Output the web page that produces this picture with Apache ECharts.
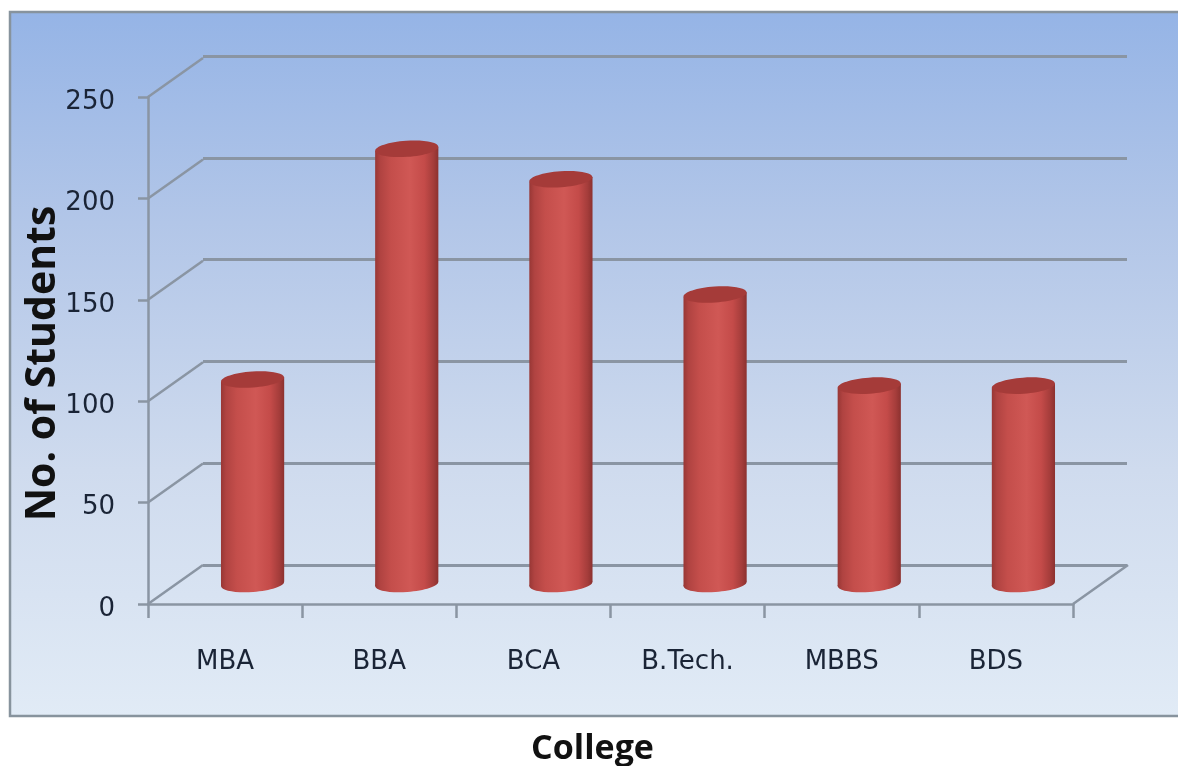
<!DOCTYPE html>
<html><head><meta charset="utf-8">
<style>html,body{margin:0;padding:0;background:#fff}#c{width:1178px;height:766px}</style>
<script src="https://cdn.jsdelivr.net/npm/echarts@6/dist/echarts.min.js"></script>
</head><body><div id="c"></div>
<script>
var categories = ['MBA','BBA','BCA','B.Tech.','MBBS','BDS'];
var students = [101,215,200,143,98,98];
var yTicks = [0,50,100,150,200,250];
var yTitle = 'No. of Students';
var xTitle = 'College';

var DEPTH_X = 55, DEPTH_Y = -39;
var GRID_COLOR = '#8a95a3', TEXT = '#1a2436';
var bodyFill = {type:'linear',x:0,y:0,x2:1,y2:0,colorStops:[
  {offset:0,color:'#983735'},{offset:.08,color:'#b04341'},{offset:.25,color:'#c44e4b'},
  {offset:.55,color:'#d05855'},{offset:.78,color:'#c44b49'},{offset:.92,color:'#a53d3b'},{offset:1,color:'#8c312f'}]};

function cylinder(params, api){
  var top = api.coord([api.value(0), api.value(1)]);
  var base = api.coord([api.value(0), 0]);
  var rx = api.size([1,0])[0]*0.205, ry = 8, tilt = 0.07, dy = rx*Math.sin(tilt);
  var cx = top[0];
  function ell(cy, fill){ return {type:'ellipse',shape:{cx:cx,cy:cy,rx:rx,ry:ry},rotation:tilt,originX:cx,originY:cy,style:{fill:fill}}; }
  return {type:'group',children:[
    ell(base[1],bodyFill),
    {type:'polygon',shape:{points:[[cx-rx,top[1]+dy],[cx+rx,top[1]-dy],[cx+rx,base[1]-dy],[cx-rx,base[1]+dy]]},style:{fill:bodyFill}},
    ell(top[1],'#a53b39')
  ]};
}
var chart = echarts.init(document.getElementById('c'));
var hiddenX = function(i){ return {type:'category',gridIndex:i,data:categories,axisLine:{show:false},axisTick:{show:false},axisLabel:{show:false}}; };
chart.setOption({
  animation:false,
  graphic:{elements:[{type:'rect',z:-10,shape:{x:10,y:12,width:1180,height:704},
    style:{stroke:'#87939d',lineWidth:2.5,fill:{type:'linear',x:0,y:0,x2:0,y2:1,colorStops:[
      {offset:0,color:'#95b4e6'},{offset:.3,color:'#b2c6e8'},{offset:.65,color:'#cfdbee'},{offset:1,color:'#e1ebf6'}]}}}]},
  grid:[
    {left:148,top:97,width:925,height:507,outerBoundsMode:'none'},
    {left:203,top:56,width:924,height:509,outerBoundsMode:'none'},
    {left:175.5,top:78,width:925,height:506,outerBoundsMode:'none'}
  ],
  xAxis:[
    {type:'category',gridIndex:0,data:categories,name:xTitle,nameLocation:'middle',nameGap:128,nameMoveOverlap:false,
      nameTextStyle:{fontFamily:'Open Sans',fontWeight:'bold',fontSize:34,color:'#111',padding:[0,36,0,0]},
      axisLine:{lineStyle:{color:GRID_COLOR,width:2.5}},axisTick:{show:true,length:14,lineStyle:{color:GRID_COLOR,width:2.5}},
      axisLabel:{margin:45,fontFamily:'DejaVu Sans',fontSize:26,color:TEXT,interval:0}},
    hiddenX(1),
    hiddenX(2)
  ],
  yAxis:[
    {type:'value',gridIndex:0,min:0,max:250,interval:50,name:yTitle,nameLocation:'middle',nameGap:84,nameRotate:90,nameMoveOverlap:false,
      nameTextStyle:{fontFamily:'Open Sans',fontWeight:700,fontSize:41,color:'#111',padding:[0,26,0,0]},
      axisLine:{show:true,lineStyle:{color:GRID_COLOR,width:2.5}},axisTick:{show:true,length:10,lineStyle:{color:GRID_COLOR,width:2.5}},
      axisLabel:{margin:33,verticalAlign:'top',lineHeight:10,fontFamily:'DejaVu Sans',fontSize:26,color:TEXT},splitLine:{show:false}},
    {type:'value',gridIndex:1,min:0,max:250,interval:50,axisLine:{show:false},axisTick:{show:false},axisLabel:{show:false},
      splitLine:{show:true,lineStyle:{color:GRID_COLOR,width:3}}},
    {type:'value',gridIndex:2,min:0,max:250,interval:50,axisLine:{show:false},axisTick:{show:false},axisLabel:{show:false},splitLine:{show:false}}
  ],
  series:[
    {type:'custom',name:'Left wall',xAxisIndex:0,yAxisIndex:0,clip:false,silent:true,z:1,
      renderItem:function(p,api){
        var o = api.coord([0, api.value(1)]); var left = o[0]-api.size([1,0])[0]/2;
        return {type:'line',shape:{x1:left,y1:o[1],x2:left+DEPTH_X,y2:o[1]+DEPTH_Y},style:{stroke:GRID_COLOR,lineWidth:2.5}};
      },
      data:yTicks.map(function(v){return [0,v];})},
    {type:'custom',name:'Floor edge',xAxisIndex:0,yAxisIndex:0,clip:false,silent:true,z:1,
      renderItem:function(p,api){
        var o = api.coord([api.value(0), 0]); var right = o[0]+api.size([1,0])[0]/2;
        return {type:'line',shape:{x1:right,y1:o[1],x2:right+DEPTH_X,y2:o[1]+DEPTH_Y},style:{stroke:GRID_COLOR,lineWidth:2.5}};
      },
      data:[[categories.length-1,0]]},
    {type:'custom',name:'Students',xAxisIndex:2,yAxisIndex:2,clip:false,z:3,renderItem:cylinder,
      data:students.map(function(v,i){return [i,v];})}
  ]
});
</script></body></html>
